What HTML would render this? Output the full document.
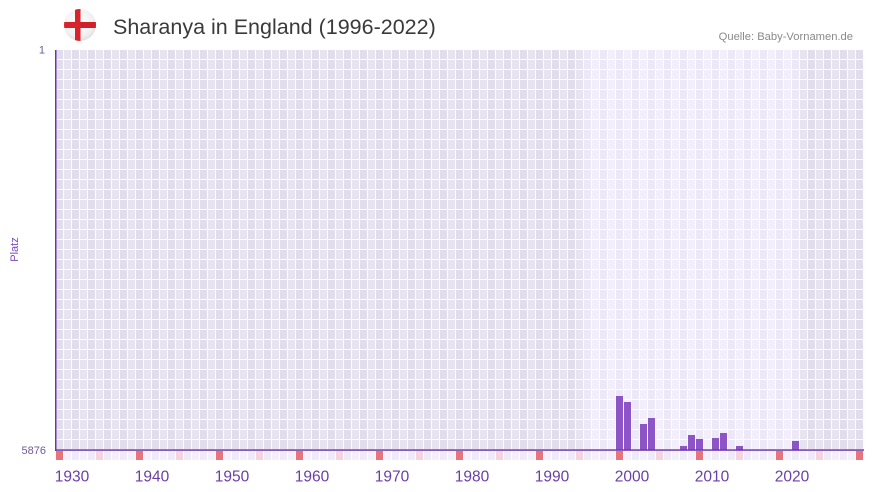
<!DOCTYPE html>
<html>
<head>
<meta charset="utf-8">
<style>
html,body{margin:0;padding:0;background:#fff;}
body{width:873px;height:492px;overflow:hidden;}
svg{display:block;}
text{font-family:"Liberation Sans",sans-serif;}
</style>
</head>
<body>
<svg width="873" height="492" viewBox="0 0 873 492" xmlns="http://www.w3.org/2000/svg">
  <defs>
    <pattern id="darkCols" x="56" y="0" width="16" height="10" patternUnits="userSpaceOnUse">
      <rect x="0" y="0" width="8" height="10" fill="#e2ddec"/>
      <rect x="8" y="0" width="8" height="10" fill="#e7e4ef"/>
    </pattern>
    <pattern id="lightCols" x="56" y="0" width="16" height="10" patternUnits="userSpaceOnUse">
      <rect x="0" y="0" width="8" height="10" fill="#ece8f8"/>
      <rect x="8" y="0" width="8" height="10" fill="#f2effb"/>
    </pattern>
    <pattern id="grid" x="56" y="50" width="8" height="10" patternUnits="userSpaceOnUse">
      <rect x="7" y="0" width="1" height="10" fill="#ffffff" fill-opacity="0.9"/>
      <rect x="0" y="9" width="8" height="1" fill="#ffffff" fill-opacity="0.9"/>
    </pattern>
    <pattern id="markCols" x="56" y="0" width="16" height="20" patternUnits="userSpaceOnUse">
      <rect x="0" y="0" width="7" height="20" fill="#eeeaf9"/>
      <rect x="8" y="0" width="7" height="20" fill="#f3f0fb"/>
    </pattern>
    <radialGradient id="flagBg" cx="45%" cy="40%" r="60%">
      <stop offset="0" stop-color="#ffffff"/>
      <stop offset="0.75" stop-color="#f1f1f1"/>
      <stop offset="1" stop-color="#e2e2e2"/>
    </radialGradient>
    <clipPath id="flagClip"><circle cx="80" cy="25" r="16"/></clipPath>
  </defs>

  <!-- Flag -->
  <circle cx="80" cy="25" r="16" fill="url(#flagBg)"/>
  <g clip-path="url(#flagClip)">
    <rect x="64" y="22" width="32" height="6" fill="#d8222c"/>
    <rect x="75" y="9" width="5.5" height="32" fill="#d8222c"/>
    <rect x="80.5" y="22" width="16" height="6" fill="#c41d27" opacity="0.5"/>
  </g>

  <!-- Title -->
  <text x="113" y="34" font-size="21.5" fill="#3a3a3a">Sharanya in England (1996-2022)</text>
  <text x="853" y="40" font-size="11.2" fill="#8a8a8a" text-anchor="end">Quelle: Baby-Vornamen.de</text>

  <!-- Plot background -->
  <rect x="56" y="50" width="528" height="400" fill="url(#darkCols)"/>
  <rect x="584" y="50" width="216" height="400" fill="url(#lightCols)"/>
  <rect x="800" y="50" width="64" height="400" fill="url(#darkCols)"/>
  <rect x="56" y="50" width="808" height="400" fill="url(#grid)"/>

  <!-- Marker row -->
  <rect x="56" y="451" width="808" height="9" fill="url(#markCols)"/>
  <g fill="#e8737b">
    <rect x="56" y="451" width="7" height="9"/>
    <rect x="136" y="451" width="7" height="9"/>
    <rect x="216" y="451" width="7" height="9"/>
    <rect x="296" y="451" width="7" height="9"/>
    <rect x="376" y="451" width="7" height="9"/>
    <rect x="456" y="451" width="7" height="9"/>
    <rect x="536" y="451" width="7" height="9"/>
    <rect x="616" y="451" width="7" height="9"/>
    <rect x="696" y="451" width="7" height="9"/>
    <rect x="776" y="451" width="7" height="9"/>
    <rect x="856" y="451" width="7" height="9"/>
  </g>
  <g fill="#f4d5de">
    <rect x="96" y="451" width="7" height="9"/>
    <rect x="176" y="451" width="7" height="9"/>
    <rect x="256" y="451" width="7" height="9"/>
    <rect x="336" y="451" width="7" height="9"/>
    <rect x="416" y="451" width="7" height="9"/>
    <rect x="496" y="451" width="7" height="9"/>
    <rect x="576" y="451" width="7" height="9"/>
    <rect x="656" y="451" width="7" height="9"/>
    <rect x="736" y="451" width="7" height="9"/>
    <rect x="816" y="451" width="7" height="9"/>
  </g>

  <!-- Bars -->
  <g fill="#8d54c8">
    <rect x="616" y="396" width="7" height="54"/>
    <rect x="624" y="402" width="7" height="48"/>
    <rect x="640" y="424" width="7" height="26"/>
    <rect x="648" y="418" width="7" height="32"/>
    <rect x="680" y="446" width="7" height="4"/>
    <rect x="688" y="435" width="7" height="15"/>
    <rect x="696" y="439" width="7" height="11"/>
    <rect x="712" y="438" width="7" height="12"/>
    <rect x="720" y="433" width="7" height="17"/>
    <rect x="736" y="446" width="7" height="4"/>
    <rect x="792" y="441" width="7" height="9"/>
  </g>

  <!-- Axes -->
  <rect x="55" y="50" width="1.5" height="401" fill="#6b37a8"/>
  <rect x="55" y="449.3" width="809" height="1.5" fill="#6b37a8"/>

  <!-- Y labels -->
  <text x="45" y="53.5" font-size="11" fill="#6f5a98" text-anchor="end">1</text>
  <text x="46" y="454" font-size="11" fill="#6f5a98" text-anchor="end">5876</text>
  <text transform="translate(18,249.5) rotate(-90)" font-size="11" fill="#7a48c0" text-anchor="middle">Platz</text>

  <!-- X labels -->
  <g font-size="15.5" fill="#6a3fa3" text-anchor="middle">
    <text x="72" y="481.5">1930</text>
    <text x="152" y="481.5">1940</text>
    <text x="232" y="481.5">1950</text>
    <text x="312" y="481.5">1960</text>
    <text x="392" y="481.5">1970</text>
    <text x="472" y="481.5">1980</text>
    <text x="552" y="481.5">1990</text>
    <text x="632" y="481.5">2000</text>
    <text x="712" y="481.5">2010</text>
    <text x="792" y="481.5">2020</text>
  </g>
</svg>
</body>
</html>
